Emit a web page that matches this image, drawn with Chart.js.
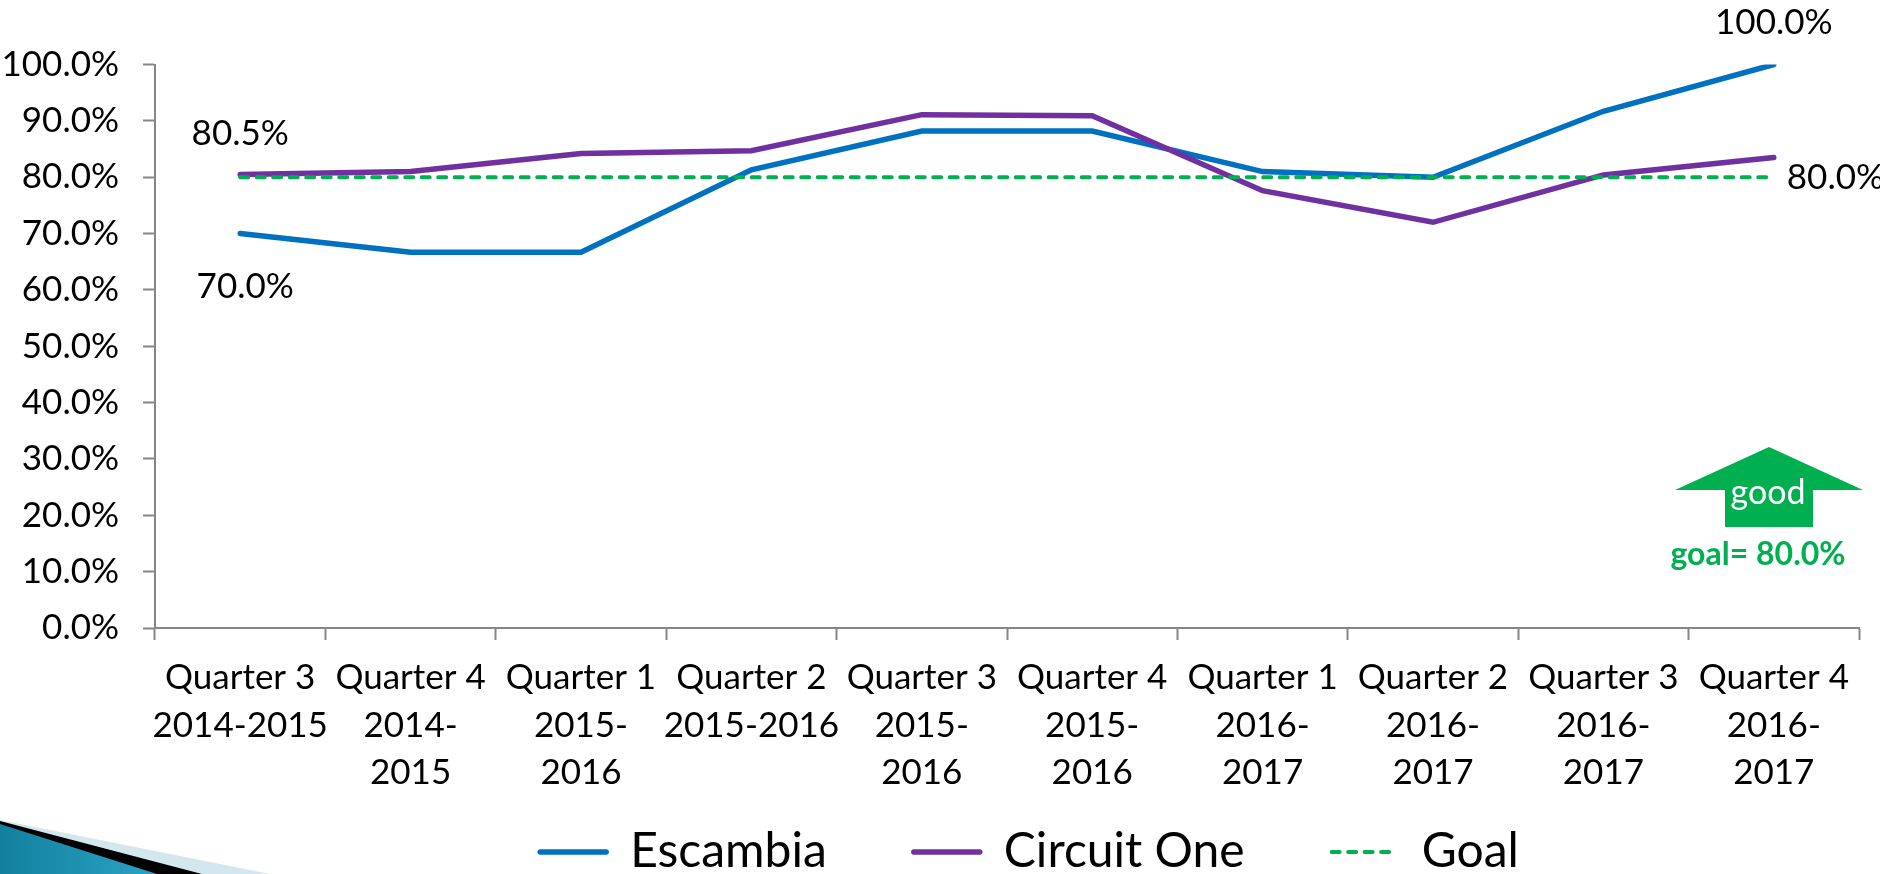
<!DOCTYPE html>
<html><head><meta charset="utf-8">
<script src="https://cdn.jsdelivr.net/npm/chart.js@4"></script>
<style>html,body{margin:0;padding:0;background:#fff;overflow:hidden}#w{position:relative;width:1880px;height:874px}</style>
</head><body><div id="w"><canvas id="c" width="1880" height="874"></canvas></div>
<script>
const categories = [
  ['Quarter 3','2014-2015'],['Quarter 4','2014-','2015'],['Quarter 1','2015-','2016'],
  ['Quarter 2','2015-2016'],['Quarter 3','2015-','2016'],['Quarter 4','2015-','2016'],
  ['Quarter 1','2016-','2017'],['Quarter 2','2016-','2017'],['Quarter 3','2016-','2017'],['Quarter 4','2016-','2017']
];
const escambia = [70.0,66.7,66.7,81.3,88.2,88.2,81.0,80.0,91.7,100.0];
const circuitOne = [80.5,81.0,84.2,84.7,91.1,90.9,77.6,72.0,80.4,83.5];
const goal = [80,80,80,80,80,80,80,80,80,80];
const FONT = 'Lato';
const pct = v => Number(v).toFixed(1) + '%';
// dataset index, point index, text offset from the point, alignment
const pointLabels = [
  {d:1,i:0,dx:0,dy:-41,a:'center'},
  {d:0,i:0,dx:5,dy:53,a:'center'},
  {d:0,i:9,dx:0,dy:-42,a:'center'},
  {d:2,i:9,dx:13,dy:1,a:'left'}
];
const decor = {
  id:'decor',
  beforeLayout(chart){
    const l=chart.legend;
    if(!l._patched){ const f=l.fit; l.fit=function(){f.call(this); this.height=76;}; l._patched=true; }
  },
  afterLayout(chart){ const l=chart.legend; l.left+=100; l.right+=100; l.top=741; l.bottom=900; },
  beforeDraw(chart){
    const x=chart.ctx; x.save();
    x.fillStyle='#d3e7ef'; x.beginPath(); x.moveTo(0,820); x.lineTo(270,874); x.lineTo(0,874); x.fill();
    x.fillStyle='#000'; x.beginPath(); x.moveTo(0,821); x.lineTo(202,874); x.lineTo(0,874); x.fill();
    const g=x.createLinearGradient(0,0,157,0); g.addColorStop(0,'#12809f'); g.addColorStop(1,'#2ba3c4');
    x.fillStyle=g; x.beginPath(); x.moveTo(0,824); x.lineTo(157,874); x.lineTo(0,874); x.fill();
    x.restore();
  },
  afterDraw(chart){
    const x=chart.ctx; x.save();
    x.textBaseline='middle'; x.fillStyle='#000'; x.font='35px '+FONT;
    pointLabels.forEach(p=>{
      const el=chart.getDatasetMeta(p.d).data[p.i];
      x.textAlign=p.a;
      x.fillText(pct(chart.data.datasets[p.d].data[p.i]),el.x+p.dx,el.y+p.dy);
    });
    x.fillStyle='#00B050'; x.beginPath();
    [[1769,447],[1863,490],[1813,490],[1813,527],[1725,527],[1725,490],[1675,490]].forEach((q,i)=>i?x.lineTo(q[0],q[1]):x.moveTo(q[0],q[1]));
    x.closePath(); x.fill();
    x.textAlign='center'; x.fillStyle='#fff'; x.font='34px '+FONT; x.fillText('good',1768,493);
    x.fillStyle='#00B050'; x.font='bold 32px '+FONT; x.fillText('goal= 80.0%',1758,555);
    x.restore();
  }
};
const grey='#868686';
new Chart(document.getElementById('c'),{
  type:'line',
  data:{labels:categories,datasets:[
    {label:'Escambia',data:escambia,borderColor:'#0070C0',backgroundColor:'#0070C0',borderWidth:5.5,pointRadius:0,tension:0,order:3,clip:0,borderCapStyle:'round'},
    {label:'Circuit One',data:circuitOne,borderColor:'#7030A0',backgroundColor:'#7030A0',borderWidth:5.5,pointRadius:0,tension:0,order:2,borderCapStyle:'round'},
    {label:'Goal',data:goal,borderColor:'#00B050',backgroundColor:'#00B050',borderWidth:4,borderDash:[8,8.5],pointRadius:0,tension:0,order:1,borderCapStyle:'round'}
  ]},
  options:{
    responsive:false,animation:false,
    layout:{autoPadding:false,padding:{top:64.5,right:21,bottom:0,left:0}},
    plugins:{
      tooltip:{enabled:false},
      legend:{position:'bottom',labels:{usePointStyle:true,pointStyle:'line',pointStyleWidth:66,boxHeight:10,padding:87,color:'#000',
        sort:(a,b)=>a.datasetIndex-b.datasetIndex,font:{family:FONT,size:48},
        generateLabels(chart){
          return Chart.defaults.plugins.legend.labels.generateLabels(chart).map(it=>{
            const ds=chart.data.datasets[it.datasetIndex];
            return Object.assign(it,{lineDash:ds.borderDash||[],lineWidth:ds.borderWidth,lineCap:'round',strokeStyle:ds.borderColor});
          });
        }}}
    },
    scales:{
      x:{offset:true,afterFit:s=>{s.height=170},
        border:{color:grey,width:2},
        grid:{offset:true,drawOnChartArea:false,drawTicks:true,tickLength:12,tickColor:grey,tickWidth:2,color:grey},
        ticks:{autoSkip:false,maxRotation:0,minRotation:0,color:'#000',padding:14,font:{family:FONT,size:35,lineHeight:1.36}}},
      y:{min:0,max:100,afterFit:s=>{s.width=155},
        border:{color:grey,width:2},
        grid:{drawOnChartArea:false,tickLength:12,tickColor:grey,tickWidth:2,color:grey},
        ticks:{stepSize:10,color:'#000',padding:24,callback:pct,font:{family:FONT,size:35}}}
    }
  },
  plugins:[decor]
});
</script></body></html>
